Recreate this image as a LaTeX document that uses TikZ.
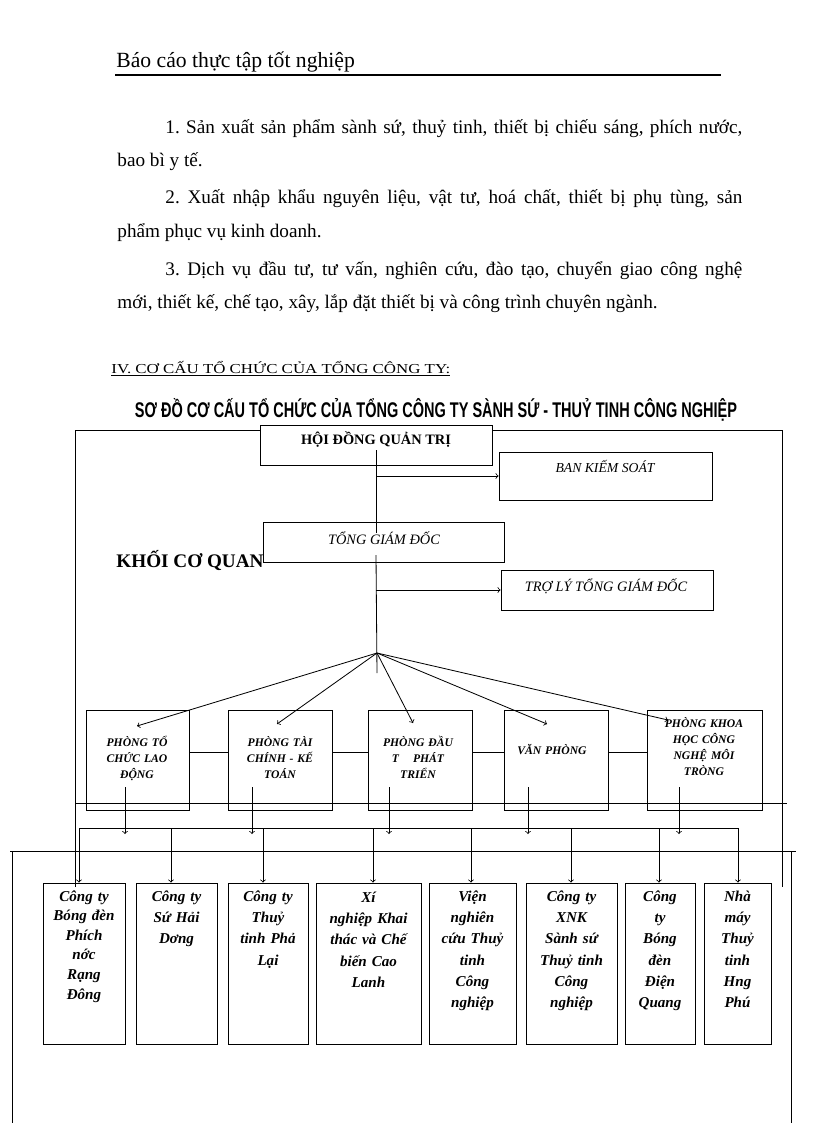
\documentclass[tikz,border=0pt]{standalone}
\usepackage{fontspec}
\usepackage{graphicx}
\setmainfont{Liberation Serif}
\newfontfamily\titlefont{Liberation Sans}
\usetikzlibrary{positioning}
\usetikzlibrary{arrows}
\usetikzlibrary{calc}
\frenchspacing

\newcommand\pxs{0.7295pt}
\newcommand\fullline[1]{\makebox[420.9pt][s]{#1}}

\tikzset{
  orgbox/.style={draw, inner sep=0pt, line width=0.6pt},
  bodytext/.style={font=\fontsize{14}{16}\selectfont, anchor=base west, inner sep=0pt},
  boxtext/.style={font=\fontsize{10}{12}\selectfont\itshape, anchor=base, inner sep=0pt},
  depttext/.style={font=\fontsize{8.5}{11.7}\selectfont\bfseries\itshape, align=center, text width=80pt, anchor=base, inner sep=0pt},
  comptext/.style={font=\fontsize{11}{15.6}\selectfont\bfseries\itshape, align=center, text width=80pt, anchor=base, inner sep=0pt},
}

\begin{document}
\begin{tikzpicture}[x=0.7295pt, y=-0.7295pt, line width=0.6pt, >=to]
  \useasboundingbox (0,0) rectangle (816,1123);

  % page head and text
  \node[bodytext, font=\fontsize{15.8}{18}\selectfont] (head) at (116,67) {Báo cáo thực tập tốt nghiệp};
  \draw[line width=1.1pt] (115,75) -- (721,75);

  \node[bodytext] (p1a) at (165,133) {\fullline{1. Sản xuất sản phẩm sành sứ, thuỷ tinh, thiết bị chiếu sáng, phích nước,}};
  \node[bodytext] (p1b) at (117,166) {bao bì y tế.};
  \node[bodytext] (p2a) at (165,203) {\fullline{2. Xuất nhập khẩu nguyên liệu, vật tư, hoá chất, thiết bị phụ tùng, sản}};
  \node[bodytext] (p2b) at (117,237) {phẩm phục vụ kinh doanh.};
  \node[bodytext] (p3a) at (165,275) {\fullline{3. Dịch vụ đầu tư, tư vấn, nghiên cứu, đào tạo, chuyển giao công nghệ}};
  \node[bodytext] (p3b) at (117,308) {mới, thiết kế, chế tạo, xây, lắp đặt thiết bị và công trình chuyên ngành.};

  \node[bodytext, font=\fontsize{10}{12}\selectfont] (sec) at (111,373) {\resizebox{247.3pt}{\height}{\underline{IV. CƠ CẤU TỔ CHỨC CỦA TỔNG CÔNG TY:}}};
  \node[anchor=base, inner sep=0pt, font=\titlefont\bfseries\fontsize{15.5}{17}\selectfont] (title) at (436,417)
    {\resizebox{439.2pt}{\height}{SƠ ĐỒ CƠ CẤU TỔ CHỨC CỦA TỔNG CÔNG TY SÀNH SỨ - THUỶ TINH CÔNG NGHIỆP}};

  % top boxes
  \node[orgbox, minimum width=232*\pxs, minimum height=40*\pxs] (hdqt) at (376,445) {};
  \node[orgbox, minimum width=213*\pxs, minimum height=48*\pxs] (bks) at (605.5,476) {};
  \node[orgbox, minimum width=241*\pxs, minimum height=40*\pxs] (tgd) at (383.5,542) {};
  \node[orgbox, minimum width=212*\pxs, minimum height=40*\pxs] (trly) at (607,590) {};

  \node[boxtext, font=\fontsize{10.5}{12}\selectfont\bfseries] (hdqtT) at (376,444) {HỘI ĐỒNG QUẢN TRỊ};
  \node[boxtext] (bksT) at (605,472) {BAN KIẾM SOÁT};
  \node[boxtext, font=\fontsize{10.5}{12}\selectfont\itshape] (tgdT) at (384,544) {TỔNG GIÁM ĐỐC};
  \node[boxtext, font=\fontsize{10.5}{12}\selectfont\itshape] (trlyT) at (606,591) {TRỢ LÝ TỔNG GIÁM ĐỐC};
  \node[bodytext, font=\fontsize{14}{16}\selectfont\bfseries] (kcq) at (116,567) {KHỐI CƠ QUAN};

  % frames
  \draw (75,887) -- (75,430) -- (hdqt.west |- 0,430);
  \draw (hdqt.east |- 0,430) -- (782,430) -- (782,887);
  \draw (75,803) -- (787,803);
  \draw (12,1123) -- (12,851);
  \draw (10,851) -- (796,851);
  \draw (791,851) -- (791,1123);

  % main line
  \coordinate (v1) at (376,450);
  \coordinate (v2) at (376,533);
  \coordinate (v3) at (376,555);
  \coordinate (fan) at (377,653);
  \coordinate (v4) at (377,673);
  \draw (v1) -- (v2);
  \draw (v3) -- (v4);
  \draw[->] (bks.west -| v1) -- (bks.west);
  \draw[->] (trly.west -| v1) -- (trly.west);

  % departments
  \node[orgbox, minimum width=103*\pxs, minimum height=100*\pxs] (d1) at (137.5,760) {};
  \node[orgbox, minimum width=104*\pxs, minimum height=100*\pxs] (d2) at (280,760) {};
  \node[orgbox, minimum width=104*\pxs, minimum height=100*\pxs] (d3) at (420,760) {};
  \node[orgbox, minimum width=104*\pxs, minimum height=100*\pxs] (d4) at (556,760) {};
  \node[orgbox, minimum width=115*\pxs, minimum height=100*\pxs] (d5) at (704.5,760) {};

  \node[depttext] (d1T) at (137,746) {PHÒNG TỔ\\CHỨC LAO\\ĐỘNG};
  \node[depttext] (d2T) at (280,746) {PHÒNG TÀI\\CHÍNH - KẾ\\TOÁN};
  \node[depttext] (d3T) at (418,746) {PHÒNG ĐẦU\\T\hspace{1.2em}PHÁT\\TRIỂN};
  \node[depttext] (d4T) at (552,754) {VĂN PHÒNG};
  \node[depttext] (d5T) at (704,727) {PHÒNG KHOA\\HỌC CÔNG\\NGHỆ MÔI\\TRÒNG};

  \coordinate (f1) at (137,726);
  \coordinate (f2) at (277,724);
  \coordinate (f3) at (413,723);
  \coordinate (f4) at (547,724);
  \coordinate (f5) at (668,720);
  \foreach \i in {1,...,5}
    {\draw[->] (fan) -- (f\i);}

  \foreach \a/\b in {d1/d2,d2/d3,d3/d4,d4/d5}
    {\draw ($(\a.east)+(0,-8)$) -- ($(\b.west)+(0,-8)$);}

  \foreach \x in {125,252,389,528,679}
    {\draw[->] (\x,787) -- (\x,834);}

  % companies
  \node[orgbox, minimum width=82*\pxs, minimum height=161*\pxs] (c1) at (84,963.5) {};
  \node[orgbox, minimum width=81*\pxs, minimum height=161*\pxs] (c2) at (176.5,963.5) {};
  \node[orgbox, minimum width=80*\pxs, minimum height=161*\pxs] (c3) at (268,963.5) {};
  \node[orgbox, minimum width=105*\pxs, minimum height=161*\pxs] (c4) at (368.5,963.5) {};
  \node[orgbox, minimum width=87*\pxs, minimum height=161*\pxs] (c5) at (472.5,963.5) {};
  \node[orgbox, minimum width=91*\pxs, minimum height=161*\pxs] (c6) at (571.5,963.5) {};
  \node[orgbox, minimum width=70*\pxs, minimum height=161*\pxs] (c7) at (660,963.5) {};
  \node[orgbox, minimum width=67*\pxs, minimum height=161*\pxs] (c8) at (737.5,963.5) {};

  \draw (79,828) -- (738,828);
  \foreach \x/\c in {79/c1,171/c2,263/c3,373/c4,471/c5,571/c6,659/c7,738/c8}
    {\draw[->] (\x,828) -- (\x,828 |- \c.north);}

  \node[comptext, font=\fontsize{11}{14.3}\selectfont\bfseries\itshape] (c1T) at (84,901) {Công ty\\Bóng đèn\\Phích\\nớc\\Rạng\\Đông};
  \node[comptext] (c2T) at (176.5,901) {Công ty\\Sứ Hải\\Dơng};
  \node[comptext] (c3T) at (268,901) {Công ty\\Thuỷ\\tinh Phả\\Lại};
  \node[comptext] (c4T) at (368.5,902) {Xí\\nghiệp Khai\\thác và Chế\\biến Cao\\Lanh};
  \node[comptext] (c5T) at (472.5,901) {Viện\\nghiên\\cứu Thuỷ\\tinh\\Công\\nghiệp};
  \node[comptext] (c6T) at (571.5,901) {Công ty\\XNK\\Sành sứ\\Thuỷ tinh\\Công\\nghiệp};
  \node[comptext] (c7T) at (660,901) {Công\\ty\\Bóng\\đèn\\Điện\\Quang};
  \node[comptext] (c8T) at (737.5,901) {Nhà\\máy\\Thuỷ\\tinh\\Hng\\Phú};
\end{tikzpicture}
\end{document}
